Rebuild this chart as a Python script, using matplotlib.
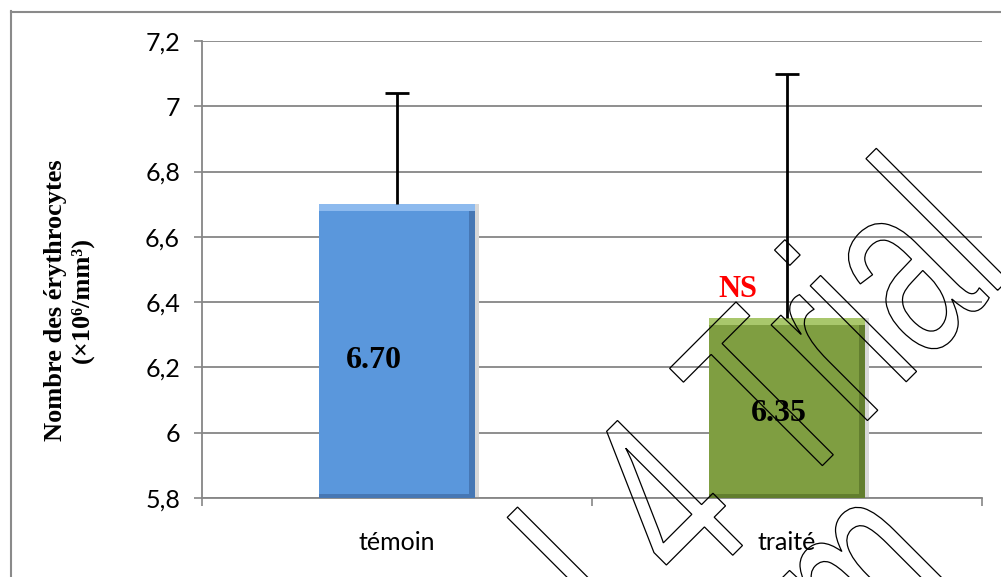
import matplotlib
matplotlib.use('Agg')
import matplotlib.pyplot as plt
import numpy as np
from matplotlib.lines import Line2D
from matplotlib.textpath import TextPath
from matplotlib.patches import PathPatch
from matplotlib.transforms import Affine2D, IdentityTransform
from matplotlib.font_manager import FontProperties

# data
categories = ['témoin', 'traité']
means = [6.70, 6.35]
err_up = [0.34, 0.75]
value_labels = ['6.70', '6.35']
signif = ['', 'NS']
y_ticks = [5.8, 6.0, 6.2, 6.4, 6.6, 6.8, 7.0, 7.2]
y_ticklabels = ['5,8', '6', '6,2', '6,4', '6,6', '6,8', '7', '7,2']

W, H = 1001, 577
fig = plt.figure(figsize=(W / 100, H / 100), dpi=100)
fig.patch.set_facecolor('white')
ax = fig.add_axes([202 / W, 1 - 498 / H, 780 / W, 457 / H])

base = y_ticks[0]
x = np.arange(len(categories))
bw = 0.4
face = ['#5A97DC', '#7F9E41']
light = ['#8DBAEE', '#A9C76C']
dark = ['#4677B4', '#627E2E']

means_a = np.array(means)
# faint shadow
ax.bar(x + 0.01, means_a - base, bottom=base, width=bw, color='#d8d8d8', zorder=2)
ax.bar(x, means_a - base, bottom=base, width=bw, color=face, zorder=3)
# bevel strips
bev = 0.02
sw = 0.016
ax.bar(x, bev, bottom=means_a - bev, width=bw, color=light, zorder=4)
ax.bar(x + bw / 2 - sw / 2, means_a - base - bev, bottom=base, width=sw, color=dark, zorder=4)
ax.bar(x - bw / 2 + sw / 2, means_a - base - bev, bottom=base, width=sw, color=face, alpha=0.6, zorder=4)
ax.bar(x, 0.012, bottom=base, width=bw, color=dark, zorder=4)

eb = ax.errorbar(x, means, yerr=[np.zeros(len(means)), err_up], fmt='none',
                 ecolor='black', elinewidth=2.0, capsize=8.5, capthick=2.0, zorder=5)
eb[1][0].set_visible(False)

# value labels and significance
for i, lab in enumerate(value_labels):
    dx = [-0.06, -0.02][i]
    ly = [6.22, 6.06][i]
    ax.text(x[i] + dx, ly, lab, ha='center', va='center', fontsize=23,
            fontweight='bold', family='Liberation Serif', zorder=6)
for i, s in enumerate(signif):
    if s:
        ax.text(x[i] - 0.125, means[i] + 0.09, s, ha='center', va='center', fontsize=22,
                fontweight='bold', family='Liberation Serif', color='red', zorder=6)

ax.set_xlim(-0.5, 1.5)
ax.set_ylim(5.8, 7.2)
ax.set_yticks(y_ticks)
ax.set_yticklabels(y_ticklabels)
ax.set_xticks(x)
ax.set_xticklabels(categories)
ax.set_xticks([-0.5, 0.5, 1.5], minor=True)
ax.tick_params(axis='x', which='major', length=0, pad=24, labelsize=18)
ax.tick_params(axis='x', which='minor', length=5.8, width=1.2, color='#868686')
ax.tick_params(axis='y', length=5.8, width=1.2, color='#868686', pad=10, labelsize=18)
for lab in ax.get_xticklabels() + ax.get_yticklabels():
    lab.set_family('Lato')
ax.grid(axis='y', color='#868686', linewidth=1.3, zorder=0)
ax.set_axisbelow(True)
for sp in ['top', 'right']:
    ax.spines[sp].set_visible(False)
for sp in ['left', 'bottom']:
    ax.spines[sp].set_color('#868686')
    ax.spines[sp].set_linewidth(1.3)

fig.text(69 / W, 1 - 300 / H, 'Nombre des érythrocytes\n(×10⁶/mm³)', rotation=90,
         ha='center', va='center', fontsize=19, fontweight='bold',
         family=['Liberation Serif', 'DejaVu Serif'], linespacing=1.2, multialignment='center')

# outer frame (cut at right and bottom)
fig.add_artist(Line2D([11 / W, 11 / W], [0, 1 - 11 / H], color='#8a8a8a', lw=1.5))
fig.add_artist(Line2D([11 / W, 1], [1 - 12 / H, 1 - 12 / H], color='#8a8a8a', lw=1.5))

# outlined trial watermark
wm_font = FontProperties(family='Liberation Sans')


def watermark(s, x0, y0):
    tp = TextPath((0, 0), s, size=1, prop=wm_font)
    tr = Affine2D().scale(166, 257).rotate_deg(45).translate(x0, H - y0)
    fig.add_artist(PathPatch(tr.transform_path(tp), fc='none', ec='black', lw=0.9,
                             transform=IdentityTransform(), zorder=10))


watermark('Trial', 792, 496)
watermark('4', 692, 596)
watermark('l', 631, 657)
watermark('m', 868, 684)

fig.savefig('out.png', dpi=100)
